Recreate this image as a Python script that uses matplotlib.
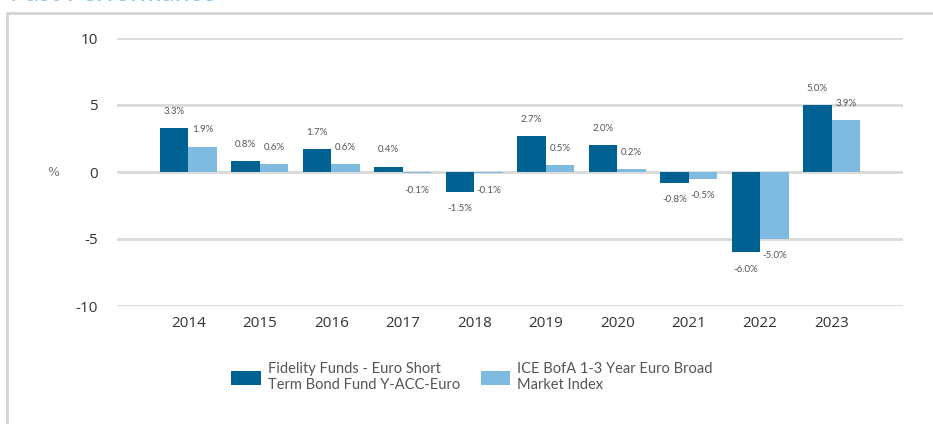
import matplotlib.pyplot as plt
from matplotlib.lines import Line2D
import numpy as np

plt.rcParams["axes.unicode_minus"] = False

# Calendar-year returns (%)
years = ["2014", "2015", "2016", "2017", "2018", "2019", "2020", "2021", "2022", "2023"]
fund = [3.3, 0.8, 1.7, 0.4, -1.5, 2.7, 2.0, -0.8, -6.0, 5.0]
index = [1.9, 0.6, 0.6, -0.1, -0.1, 0.5, 0.2, -0.5, -5.0, 3.9]
series_names = ["Fidelity Funds - Euro Short\nTerm Bond Fund Y-ACC-Euro",
                "ICE BofA 1-3 Year Euro Broad\nMarket Index"]
y_ticks = [-10, -5, 0, 5, 10]

dark_blue = "#006193"
light_blue = "#7fbbe1"
grid_grey = "#d9d9d9"

fig = plt.figure(figsize=(9.33, 4.24), dpi=100)
ax = fig.add_axes([117 / 933, 1 - 306 / 424, (903 - 117) / 933, (306 - 38) / 424])

x = np.arange(len(years))
w = 0.4
b1 = ax.bar(x - w / 2, fund, w, color=dark_blue, label=series_names[0], zorder=3)
b2 = ax.bar(x + w / 2, index, w, color=light_blue, label=series_names[1], zorder=3)

# value labels above / below each bar
for bars, vals in [(b1, fund), (b2, index)]:
    for rect, v in zip(bars, vals):
        cx = rect.get_x() + rect.get_width() / 2
        off = 12 if v >= 0 else -12
        ax.annotate(f"{v:.1f}%", (cx, v), xytext=(0, off), textcoords="offset points",
                    ha="center", va="center", fontsize=7, color="#555555",
                    family="Lato")

ax.set_xlim(-1, 10)
ax.set_ylim(-10, 10)
ax.set_yticks(y_ticks)
ax.set_xticks(x)
ax.set_xticklabels(years)
ax.grid(axis="y", color=grid_grey, linewidth=2, zorder=0)
for s in ax.spines.values():
    s.set_visible(False)
ax.tick_params(axis="both", length=0, labelsize=11, colors="#333333")
ax.tick_params(axis="y", pad=14)
ax.tick_params(axis="x", pad=7)
for lbl in ax.get_xticklabels() + ax.get_yticklabels():
    lbl.set_family("Open Sans")
ax.set_ylabel("%", rotation=0, fontsize=9, color="#777777", labelpad=16, va="center")

fig.legend(loc="center", bbox_to_anchor=(472 / 933, 1 - 377 / 424), ncol=2,
           frameon=False, labelcolor="#555555", handlelength=2.0,
           handleheight=1.1, columnspacing=1.4, handletextpad=0.5,
           prop={"family": "Lato", "size": 10.5})

# panel frame and heading
fig.add_artist(Line2D([7 / 933, 7 / 933], [0, 1 - 13 / 424], transform=fig.transFigure,
                      color="#d4d4d4", linewidth=2))
fig.add_artist(Line2D([7 / 933, 1], [1 - 13 / 424, 1 - 13 / 424], transform=fig.transFigure,
                      color="#d4d4d4", linewidth=2))
fig.text(10 / 933, 1 - 1 / 424, "Past Performance", fontsize=19, color="#8cc3e6",
         va="baseline", family="Lato")

fig.savefig("out.png", dpi=100)
